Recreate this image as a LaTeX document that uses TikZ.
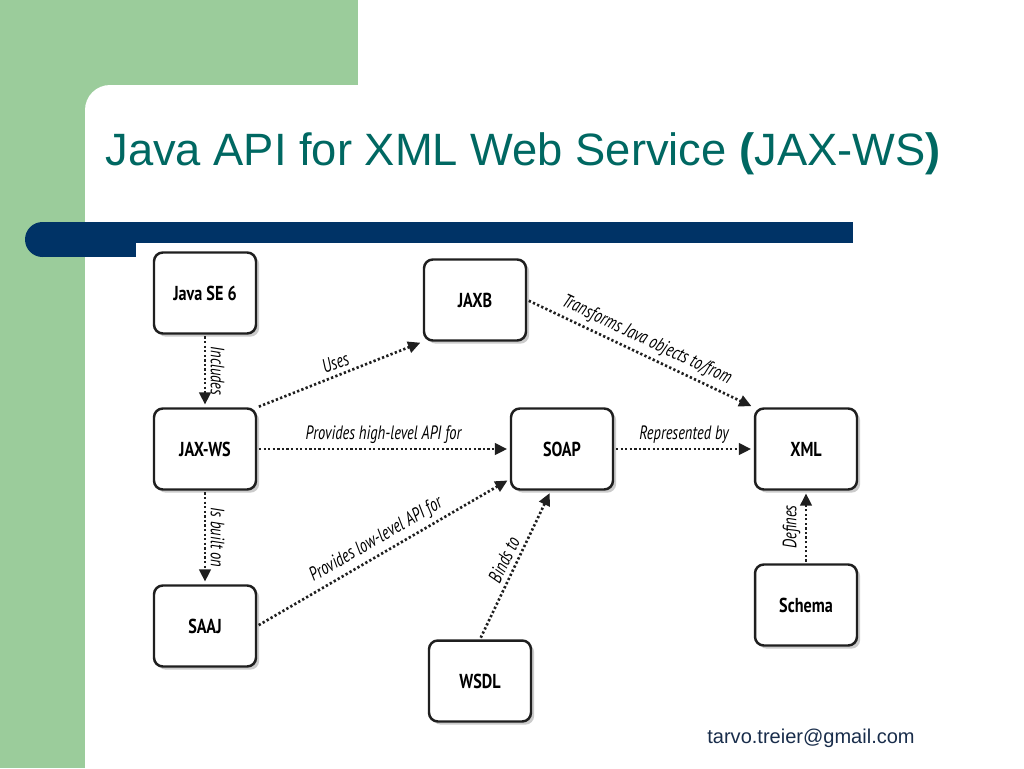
\documentclass[tikz,border=0pt]{standalone}
\usepackage{fontspec}
\setmainfont{Liberation Sans}
\newfontfamily\boxfont[FakeStretch=0.8]{PT Sans}
\newfontfamily\relfont[FakeStretch=0.75]{PT Sans}
\usetikzlibrary{arrows.meta,shadows}

\definecolor{slidegreen}{RGB}{155,204,155}
\definecolor{barblue}{RGB}{0,51,102}
\definecolor{titleteal}{RGB}{0,104,98}
\definecolor{mailnavy}{RGB}{25,45,75}

\tikzset{
    box/.style={draw=black!88, line width=1.4pt, rounded corners=5pt, fill=white,
        minimum width=2.04cm, minimum height=1.62cm,
        font=\boxfont\bfseries\fontsize{11.5}{13}\selectfont,
        drop shadow={shadow xshift=1.8pt, shadow yshift=-1.8pt, fill=black!45, opacity=0.45}},
    rel/.style={draw=black!88, line width=1.5pt, dash pattern=on 1.3pt off 1.3pt,
        -{Triangle[length=7pt,width=6.5pt]}, shorten >=1.5pt, shorten <=1pt},
    lbl/.style={font=\relfont\itshape\fontsize{11}{13}\selectfont, inner sep=2.5pt, sloped, above}
}

\begin{document}
\begin{tikzpicture}[x=0.02cm, y=-0.02cm]
    \useasboundingbox (0,0) rectangle (1024,768);

    % --- slide background ---
    \fill[white] (0,0) rectangle (1024,768);
    \fill[slidegreen] (0,0) rectangle (358,85);
    \fill[slidegreen] (0,0) rectangle (85,768);
    \fill[slidegreen] (85,85) rectangle (110,110);
    \fill[white] (110,110) circle (25);

    % Title bar
    \fill[barblue] (42.5,222) rectangle (136,257);
    \fill[barblue] (42.5,239.5) circle (17.5);
    \fill[barblue] (136,222) rectangle (853,243);

    \node[anchor=base west, inner sep=0pt, text=titleteal, font=\fontsize{25.8}{30}\selectfont]
        (title) at (105,165) {Java API for XML Web Service \textbf{(}JAX-WS\textbf{)}};
    \node[anchor=base west, inner sep=0pt, text=mailnavy, font=\fontsize{11.4}{14}\selectfont]
        (email) at (707,743) {tarvo.treier@gmail.com};

    % --- components ---
    \node[box] (javase) at (205,293) {Java SE 6};
    \node[box] (jaxb)   at (475,300) {JAXB};
    \node[box] (jaxws)  at (205,449) {JAX-WS};
    \node[box] (soap)   at (562,449) {SOAP};
    \node[box] (xml)    at (806,449) {XML};
    \node[box] (saaj)   at (205,626) {SAAJ};
    \node[box] (wsdl)   at (480,681) {WSDL};
    \node[box] (schema) at (806,605) {Schema};

    % --- relations ---
    \draw[rel] (javase) -- node[lbl] {Includes} (jaxws);
    \draw[rel] (jaxws) -- node[lbl] {Is built on} (saaj);
    \draw[rel] (jaxws.north east) -- node[lbl] {Uses} (jaxb.south west);
    \draw[rel] (jaxws) -- node[lbl] {Provides high-level API for} (soap);
    \draw[rel] (saaj.east) -- node[lbl] {Provides low-level API for} (soap.-150);
    \draw[rel] (wsdl.north) -- node[lbl] {Binds to} (soap.-105);
    \draw[rel] (jaxb.east) -- node[lbl] {Transforms Java objects to/from} (xml.north west);
    \draw[rel] (soap) -- node[lbl] {Represented by} (xml);
    \draw[rel] (schema) -- node[lbl] {Defines} (xml);
\end{tikzpicture}
\end{document}
